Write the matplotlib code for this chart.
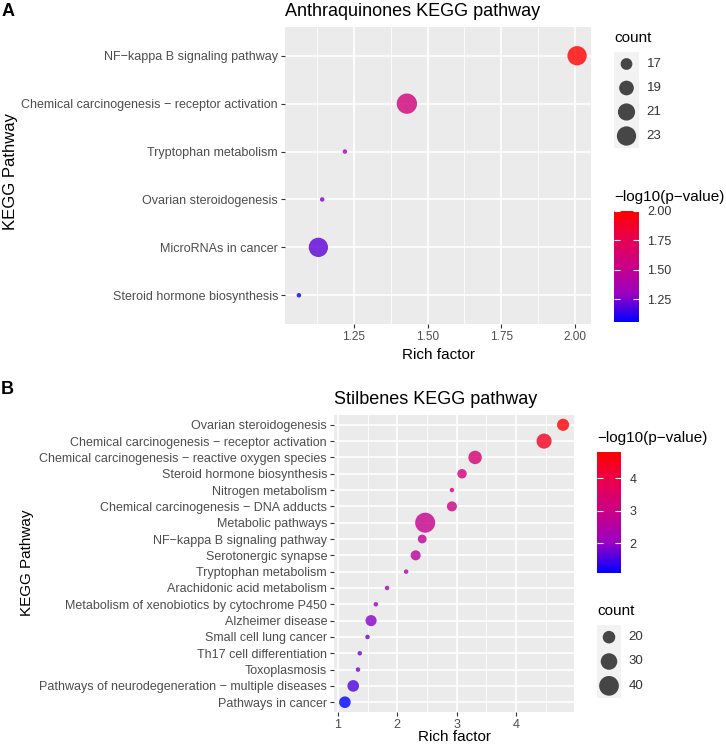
import numpy as np
import matplotlib
matplotlib.use("Agg")
import matplotlib.pyplot as plt
from matplotlib.colors import LinearSegmentedColormap, Normalize
from matplotlib.cm import ScalarMappable
from matplotlib.ticker import AutoMinorLocator, FixedLocator

plt.rcParams['font.family'] = ['Liberation Sans', 'DejaVu Sans']

# ---- panel A data (top to bottom) ----
a_terms = ['NF\u2212kappa B signaling pathway',
           'Chemical carcinogenesis \u2212 receptor activation',
           'Tryptophan metabolism',
           'Ovarian steroidogenesis',
           'MicroRNAs in cancer',
           'Steroid hormone biosynthesis']
a_rich = [2.007, 1.43, 1.22, 1.143, 1.13, 1.064]
a_count = [23, 24, 14, 14, 23, 14]
a_logp = [2.00, 1.58, 1.34, 1.26, 1.20, 1.056]
a_size_breaks = [17, 19, 21, 23]
a_col_breaks = [1.25, 1.50, 1.75, 2.00]

# ---- panel B data (top to bottom) ----
b_terms = ['Ovarian steroidogenesis',
           'Chemical carcinogenesis \u2212 receptor activation',
           'Chemical carcinogenesis \u2212 reactive oxygen species',
           'Steroid hormone biosynthesis',
           'Nitrogen metabolism',
           'Chemical carcinogenesis \u2212 DNA adducts',
           'Metabolic pathways',
           'NF\u2212kappa B signaling pathway',
           'Serotonergic synapse',
           'Tryptophan metabolism',
           'Arachidonic acid metabolism',
           'Metabolism of xenobiotics by cytochrome P450',
           'Alzheimer disease',
           'Small cell lung cancer',
           'Th17 cell differentiation',
           'Toxoplasmosis',
           'Pathways of neurodegeneration \u2212 multiple diseases',
           'Pathways in cancer']
b_rich = [4.79, 4.47, 3.31, 3.09, 2.92, 2.92, 2.47, 2.42, 2.31, 2.15,
          1.83, 1.64, 1.56, 1.50, 1.37, 1.34, 1.26, 1.12]
b_count = [19, 26, 22, 14, 8, 15, 41, 13, 15, 8, 8, 8, 17, 8, 8, 8, 18, 18]
b_logp = [4.80, 4.43, 3.30, 3.13, 3.05, 3.00, 2.87, 2.72, 2.64, 2.38,
          2.12, 2.05, 1.90, 1.75, 1.75, 1.75, 1.56, 1.08]
b_size_breaks = [20, 30, 40]
b_col_breaks = [2, 3, 4]

W, H = 726, 748
# ggplot-like blue -> red gradient (Lab interpolation approximated)
cmap = LinearSegmentedColormap.from_list(
    'bluered', ['#0000FF', '#9A00C3', '#C90088', '#E80050', '#FF0000'])

def rect(x0, y0, x1, y1):
    return [x0 / W, 1 - y1 / H, (x1 - x0) / W, (y1 - y0) / H]

def size_pt2(c, cmin, cmax, dmax, dmin=4.5):
    # area scale: diameter dmin px at min count, dmax px at max count
    area = dmin ** 2 + (np.asarray(c, float) - cmin) / (cmax - cmin) * (dmax ** 2 - dmin ** 2)
    return area * (0.72 ** 2)

def panel(terms, rich, count, logp, ax_rect, dmax, title, xmajor, fmt,
          tick_fs, xlab_y):
    ax = fig.add_axes(rect(*ax_rect))
    n = len(terms)
    y = np.arange(n, 0, -1)
    cmin, cmax = min(count), max(count)
    norm = Normalize(min(logp), max(logp))
    ax.set_facecolor('#EBEBEB')
    ax.scatter(rich, y, s=size_pt2(count, cmin, cmax, dmax), c=logp, cmap=cmap,
               norm=norm, alpha=0.8, linewidths=0, zorder=3)
    span = max(rich) - min(rich)
    ax.set_xlim(min(rich) - 0.05 * span, max(rich) + 0.05 * span)
    ax.set_ylim(0.4, n + 0.6)
    ax.xaxis.set_major_locator(FixedLocator(xmajor))
    ax.xaxis.set_minor_locator(AutoMinorLocator(2))
    ax.set_xticklabels([fmt % v for v in xmajor])
    ax.set_yticks(y)
    ax.set_yticklabels(terms)
    ax.grid(which='major', color='white', lw=1.2, zorder=1)
    ax.grid(which='minor', axis='x', color='white', lw=0.6, zorder=1)
    ax.set_axisbelow(True)
    for s in ax.spines.values():
        s.set_visible(False)
    ax.tick_params(which='major', length=3, width=0.8, color='#333333',
                   labelcolor='#4D4D4D', pad=2)
    ax.tick_params(axis='y', labelsize=9)
    ax.tick_params(axis='x', labelsize=tick_fs)
    ax.tick_params(which='minor', length=0)
    ax.set_xlabel('Rich factor', fontsize=11)
    ax.xaxis.set_label_coords(0.5, xlab_y)
    ax.set_title(title, loc='left', fontsize=13, pad=8)
    return norm, cmin, cmax

def colorbar(norm, cb_rect, breaks, fmt, title, title_fs, lab_fs):
    cax = fig.add_axes(rect(*cb_rect))
    cb = fig.colorbar(ScalarMappable(norm=norm, cmap=cmap), cax=cax)
    cb.outline.set_visible(False)
    cb.set_ticks(breaks)
    cb.set_ticklabels([fmt % v for v in breaks])
    cax.tick_params(direction='in', color='white', length=4, width=0.8,
                    left=True, right=True, labelcolor='#333333',
                    labelsize=lab_fs, pad=6)
    fig.text(cb_rect[0] / W, 1 - (cb_rect[1] - 14) / H, title,
             fontsize=title_fs, va='center', ha='left')

def size_legend(breaks, cmin, cmax, dmax, lg_rect, lab_fs):
    lax = fig.add_axes(rect(*lg_rect))
    lax.set_facecolor('#F2F2F2')
    k = len(breaks)
    yy = np.arange(k, 0, -1)
    lax.scatter(np.full(k, 0.5), yy, s=size_pt2(breaks, cmin, cmax, dmax),
                color='#333333', alpha=0.9, linewidths=0)
    lax.set_xlim(0, 1)
    lax.set_ylim(0.5, k + 0.5)
    lax.set_xticks([])
    lax.set_yticks([])
    for s in lax.spines.values():
        s.set_visible(False)
    for yv, b in zip(yy, breaks):
        lax.text(1.3, yv, str(b), transform=lax.get_yaxis_transform(),
                 fontsize=lab_fs, va='center', ha='left', color='#333333',
                 clip_on=False)
    fig.text(lg_rect[0] / W, 1 - (lg_rect[1] - 14) / H, 'count',
             fontsize=11, va='center', ha='left')

fig = plt.figure(figsize=(W / 100, H / 100), dpi=100)

# panel A
normA, aminc, amaxc = panel(a_terms, a_rich, a_count, a_logp,
                            (285, 27, 591, 324), 20.3,
                            'Anthraquinones KEGG pathway',
                            [1.25, 1.50, 1.75, 2.00], '%.2f', 8.5, -0.08)
size_legend(a_size_breaks, aminc, amaxc, 20.3, (614, 52, 639, 148), 9.5)
colorbar(normA, (614, 211, 639, 322), a_col_breaks, '%.2f',
         '\u2212log10(p\u2212value)', 11, 9)
fig.text(2 / W, 1 - 12 / H, 'A', fontsize=13, fontweight='bold',
         va='center', ha='left')
fig.text(11 / W, 1 - 172 / H, 'KEGG Pathway', fontsize=12, rotation=90,
         va='center', ha='center')

# panel B
normB, bminc, bmaxc = panel(b_terms, b_rich, b_count, b_logp,
                            (334, 415, 574, 712), 20.0,
                            'Stilbenes KEGG pathway',
                            [1, 2, 3, 4], '%d', 9, -0.06)
colorbar(normB, (597, 452, 621, 573), b_col_breaks, '%d',
         '\u2212log10(p\u2212value)', 11, 9)
size_legend(b_size_breaks, bminc, bmaxc, 20.0, (597, 625, 621, 698), 9.5)
fig.text(1 / W, 1 - 390 / H, 'B', fontsize=13, fontweight='bold',
         va='center', ha='left')
fig.text(27 / W, 1 - 563 / H, 'KEGG Pathway', fontsize=11, rotation=90,
         va='center', ha='center')

fig.savefig('out.png', dpi=100)
